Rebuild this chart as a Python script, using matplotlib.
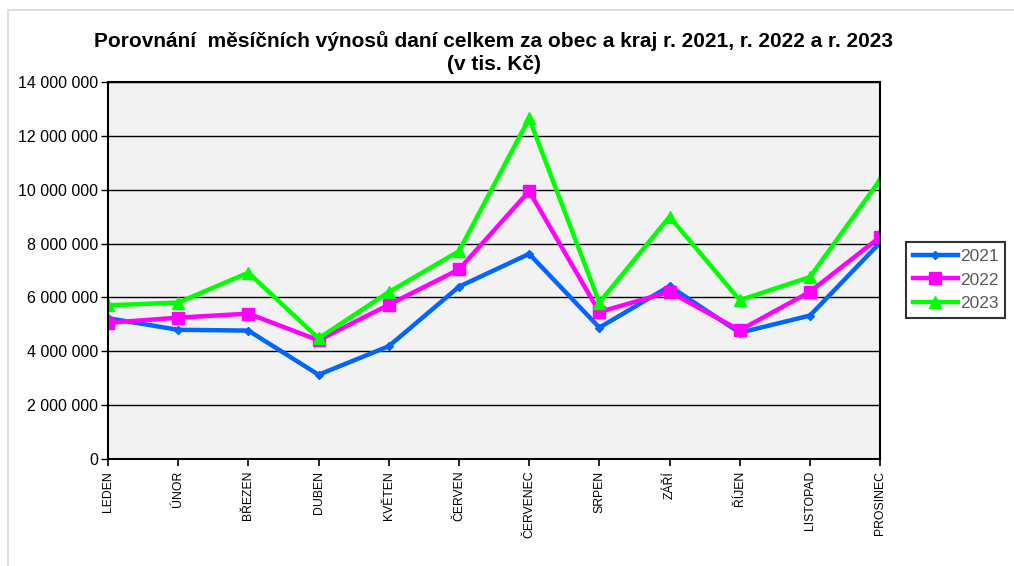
import matplotlib
matplotlib.use("Agg")
import matplotlib.pyplot as plt
from matplotlib.ticker import FuncFormatter
from matplotlib.patches import Rectangle

months = ["LEDEN", "ÚNOR", "BŘEZEN", "DUBEN", "KVĚTEN", "ČERVEN",
          "ČERVENEC", "SRPEN", "ZÁŘÍ", "ŘÍJEN", "LISTOPAD", "PROSINEC"]
y2021 = [5230000, 4800000, 4770000, 3130000, 4190000, 6400000,
         7620000, 4880000, 6420000, 4690000, 5330000, 8040000]
y2022 = [5060000, 5250000, 5400000, 4410000, 5730000, 7040000,
         9950000, 5460000, 6210000, 4780000, 6210000, 8250000]
y2023 = [5710000, 5810000, 6920000, 4480000, 6200000, 7720000,
         12650000, 5810000, 9000000, 5900000, 6760000, 10370000]

plt.rcParams["font.family"] = ["Liberation Sans", "DejaVu Sans"]

fig = plt.figure(figsize=(10.14, 5.66), dpi=100)
fig.patch.set_facecolor("white")
fig.patches.append(Rectangle((0.008, -0.01), 0.995, 0.993, transform=fig.transFigure,
                             fill=False, edgecolor="#D9D9D9", lw=1.2))

ax = fig.add_axes([0.1065, 0.189, 0.7615, 0.666])
ax.set_facecolor("#F2F2F2")

x = range(len(months))
ax.plot(x, y2021, color="#0066FF", lw=3.2, marker="D", ms=4.5, label="2021")
ax.plot(x, y2022, color="#FF00FF", lw=3.2, marker="s", ms=8, label="2022")
ax.plot(x, y2023, color="#00FF00", lw=3.2, marker="^", ms=8, label="2023")

ax.set_xlim(0, len(months) - 1)
ax.set_ylim(0, 14000000)
ax.set_yticks(range(0, 14000001, 2000000))
ax.yaxis.set_major_formatter(FuncFormatter(lambda v, p: f"{int(v):,}".replace(",", " ")))
ax.grid(axis="y", color="black", lw=1)
ax.set_axisbelow(True)
ax.set_xticks(list(x))
ax.set_xticklabels(months, rotation=90, fontsize=8.8)
ax.tick_params(axis="y", labelsize=11.5, length=5, width=1, pad=2)
ax.tick_params(axis="x", length=5, width=1.2)
for s in ax.spines.values():
    s.set_linewidth(1.5)

fig.text(0.487, 0.928, "Porovnání  měsíčních výnosů daní celkem za obec a kraj r. 2021, r. 2022 a r. 2023",
         ha="center", va="center", fontsize=15, fontweight="bold")
fig.text(0.487, 0.886, "(v tis. Kč)", ha="center", va="center", fontsize=15, fontweight="bold")

leg = ax.legend(loc="center left", bbox_to_anchor=(1.022, 0.475), frameon=True, fancybox=False,
                edgecolor="black", handlelength=2.6, handletextpad=0.1,
                borderpad=0.4, labelspacing=0.5, prop={"size": 12.5})
leg.get_frame().set_linewidth(1.5)
for t in leg.get_texts():
    t.set_color("#595959")

fig.savefig("out.png", dpi=100, facecolor="white")
